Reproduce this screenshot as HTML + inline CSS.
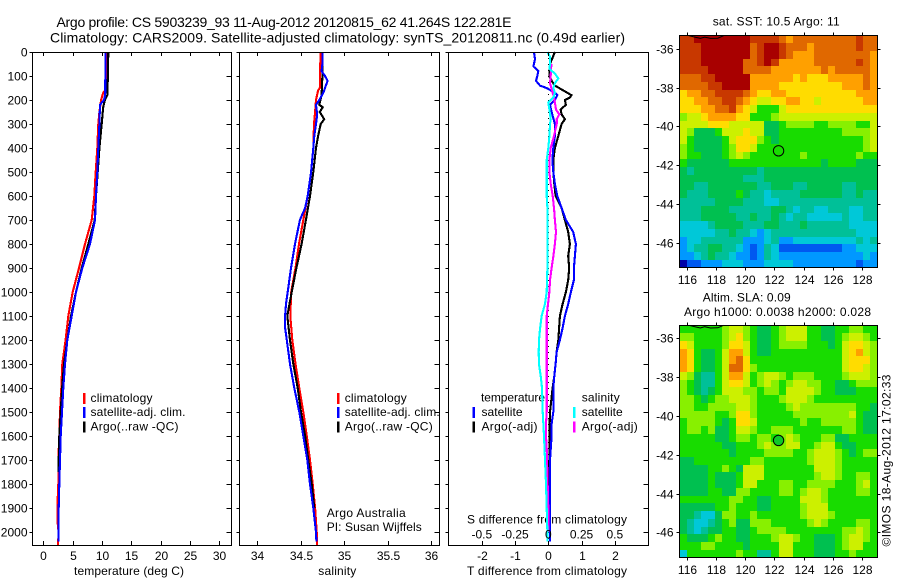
<!DOCTYPE html>
<html>
<head>
<meta charset="utf-8">
<title>Argo profile</title>
<style>
html,body{margin:0;padding:0;background:#fff;width:900px;height:580px;overflow:hidden}
svg{display:block}
text{font-family:"Liberation Sans",sans-serif;font-size:12px;fill:#000}
.t{font-size:14px}
</style>
</head>
<body>
<svg id="chart" width="900" height="580" viewBox="0 0 900 580" xmlns="http://www.w3.org/2000/svg">
<text class="t" x="56.5" y="27" textLength="455" lengthAdjust="spacing">Argo profile: CS 5903239_93 11-Aug-2012 20120815_62 41.264S 122.281E</text>
<text class="t" x="50" y="42.5" textLength="575" lengthAdjust="spacing">Climatology: CARS2009. Satellite-adjusted climatology: synTS_20120811.nc (0.49d earlier)</text>
<text x="90.5" y="402" textLength="62" lengthAdjust="spacing">climatology</text>
<text x="90.5" y="416" textLength="95" lengthAdjust="spacing">satellite-adj. clim.</text>
<text x="90.5" y="430.5" textLength="88" lengthAdjust="spacing">Argo(..raw -QC)</text>
<text x="74" y="575" textLength="110" lengthAdjust="spacing">temperature (deg C)</text>
<text x="344.7" y="402" textLength="62" lengthAdjust="spacing">climatology</text>
<text x="344.7" y="416" textLength="95" lengthAdjust="spacing">satellite-adj. clim.</text>
<text x="344.7" y="430.5" textLength="88" lengthAdjust="spacing">Argo(..raw -QC)</text>
<text x="326.7" y="517" textLength="79" lengthAdjust="spacing">Argo Australia</text>
<text x="326.7" y="531" textLength="95" lengthAdjust="spacing">PI: Susan Wijffels</text>
<text x="318.3" y="575" textLength="38" lengthAdjust="spacing">salinity</text>
<text x="481" y="401.5" textLength="64" lengthAdjust="spacing">temperature</text>
<text x="581.7" y="401.5" textLength="38" lengthAdjust="spacing">salinity</text>
<text x="481.5" y="416" textLength="41" lengthAdjust="spacing">satellite</text>
<text x="481.5" y="430.5" textLength="56" lengthAdjust="spacing">Argo(-adj)</text>
<text x="581.7" y="416" textLength="41" lengthAdjust="spacing">satellite</text>
<text x="581.7" y="430.5" textLength="56" lengthAdjust="spacing">Argo(-adj)</text>
<text x="467" y="523.5" textLength="160" lengthAdjust="spacing">S difference from climatology</text>
<text x="467" y="575" textLength="160" lengthAdjust="spacing">T difference from climatology</text>
<text x="712.7" y="25.5" textLength="127" lengthAdjust="spacing">sat. SST: 10.5 Argo: 11</text>
<text x="702.7" y="301.7" textLength="88" lengthAdjust="spacing">Altim. SLA: 0.09</text>
<text x="684" y="316" textLength="187" lengthAdjust="spacing">Argo h1000: 0.0038 h2000: 0.028</text>
<text transform="translate(890.5,546.5) rotate(-90)" textLength="172" lengthAdjust="spacing">©IMOS 18-Aug-2012 17:02:33</text>
</svg>
<script>
const depthTicks = [0,100,200,300,400,500,600,700,800,900,1000,1100,1200,1300,1400,1500,1600,1700,1800,1900,2000];
const temperatureTicks = [0,5,10,15,20,25,30];
const salinityTicks = [34,34.5,35,35.5,36];
const tDiffTicks = [-2,-1,0,1,2];
const sDiffTicks = [-0.5,-0.25,0,0.25,0.5];
const lonTicks = [116,118,120,122,124,126,128];
const latTicks = [-36,-38,-40,-42,-44,-46];

const tempClimDepth = [0,100,160,170,200,250,300,400,500,600,700,800,900,1000,1100,1200,1300,1400,1500,1600,1700,1800,1900,1950,2000,2055];
const tempClim = [10.68,10.68,10.6,10.2,9.85,9.55,9.37,9.2,8.93,8.69,8.25,7.1,6.08,5,4.26,3.8,3.24,3.07,2.85,2.73,2.56,2.56,2.39,2.39,2.6,2.5];
const tempSatDepth = [0,180,200,220,300,400,500,600,700,800,900,1000,1100,1200,1300,1400,1500,1600,1700,1800,1900,2000,2040];
const tempSat = [10.6,10.55,10.34,9.66,9.55,9.37,9.2,8.98,8.8,7.96,6.65,5.57,4.84,4.09,3.7,3.41,3.19,2.96,2.85,2.73,2.62,2.56,2.56];
const tempArgoDepth = [0,100,180,200,230,300,400,500,600,700,800,900,1000,1100,1200,1300,1400,1500,1600,1700,1750];
const tempArgo = [11.08,11,10.9,10.5,10.2,9.95,9.55,9.27,8.98,8.75,7.67,6.55,5.57,4.72,4.09,3.53,3.2,2.96,2.73,2.62,2.56];

const salClimDepth = [0,100,150,160,200,250,300,400,500,600,700,800,900,1000,1100,1200,1300,1400,1500,1600,1700,1800,1900,2000,2055];
const salClim = [34.73,34.72,34.72,34.7,34.676,34.665,34.653,34.645,34.62,34.58,34.53,34.48,34.44,34.39,34.38,34.403,34.44,34.484,34.53,34.57,34.607,34.638,34.665,34.684,34.69];
const salSatDepth = [0,50,80,100,120,150,170,200,220,260,300,350,400,500,600,650,700,800,900,1000,1050,1100,1150,1200,1300,1400,1500,1600,1700,1800,1900,2000,2040];
const salSat = [34.75,34.75,34.74,34.78,34.81,34.78,34.76,34.714,34.676,34.69,34.676,34.656,34.645,34.62,34.58,34.55,34.49,34.434,34.388,34.35,34.33,34.32,34.32,34.34,34.377,34.426,34.484,34.53,34.576,34.607,34.645,34.676,34.68];
const salArgoDepth = [0,100,180,220,230,250,280,300,350,400,500,600,700,800,900,1000,1100,1200,1300,1400,1500,1600,1700,1800,1900];
const salArgo = [34.75,34.75,34.74,34.714,34.753,34.72,34.77,34.73,34.7,34.676,34.645,34.607,34.56,34.51,34.45,34.396,34.345,34.377,34.415,34.465,34.503,34.55,34.587,34.626,34.656];

const tDiffSatDepth = [0,30,60,80,100,120,140,150,170,180,200,220,250,300,350,400,450,500,550,600,650,700,750,800,850,900,950,1000,1050,1100,1150,1200,1250,1300,1350,1400,1500,1550,1600,1700,1800,2000,2040];
const tDiffSat = [-0.43,-0.4,-0.45,-0.3,-0.33,-0.37,-0.25,-0.05,0.2,0.27,0.2,0.05,0.1,0.2,0.2,0.15,0.12,0.15,0.2,0.27,0.4,0.53,0.75,0.83,0.8,0.77,0.77,0.68,0.6,0.5,0.43,0.35,0.25,0.22,0.18,0.15,0.15,0.1,0.1,0.05,0.05,0.05,0.05];
const tDiffArgoDepth = [0,10,50,100,120,140,160,180,190,200,220,240,260,280,300,350,400,450,500,550,600,650,700,750,800,850,900,950,1000,1050,1100,1200,1250,1300,1350,1400,1500,1600,1700,2000];
const tDiffArgo = [0.2,0.17,0.05,0.03,0.1,0.2,0.45,0.7,0.65,0.5,0.53,0.37,0.4,0.5,0.4,0.3,0.2,0.15,0.15,0.18,0.22,0.4,0.5,0.6,0.65,0.6,0.63,0.6,0.53,0.43,0.35,0.3,0.25,0.22,0.18,0.13,0.05,0.03,0.03,0];
const sDiffSatDepth = [0,20,50,70,90,110,130,150,170,190,210,240,280,300,350,400,450,500,550,600,650,700,800,900,1000,1050,1100,1150,1200,1250,1300,1350,1400,1500,1600,1700,1800,1900,2000,2040];
const sDiffSat = [-0.007,0.013,0.013,0.008,0.05,0.075,0.05,0.038,0.05,0.038,0,0.008,0.018,0.013,0.008,0,-0.012,-0.012,-0.012,-0.012,-0.007,-0.007,-0.007,-0.007,-0.012,-0.025,-0.05,-0.062,-0.07,-0.072,-0.07,-0.057,-0.047,-0.042,-0.032,-0.025,-0.017,-0.012,-0.007,-0.005];
const sDiffArgoDepth = [50,70,100,130,170,190,210,240,260,280,300,350,400,450,500,550,600,650,700,750,800,850,900,950,1000,1050,1100,1200,1300,1400,1500,1550,1600,1650,1900,2000];
const sDiffArgo = [0.025,0.02,0.018,0.013,0.033,0.043,0.05,0.058,0.083,0.063,0.063,0.043,0.018,0.008,0.008,0.018,0.033,0.043,0.05,0.058,0.05,0.038,0.025,0.013,0.008,-0.002,-0.012,-0.012,-0.012,-0.012,-0.012,-0.017,-0.017,-0.012,0,0];

const coastLon = [116.1,116.6,116.9,117.2,117.6,118.1,118.5];
const coastLat = [-35.33,-35.42,-35.47,-35.4,-35.47,-35.46,-35.33];
const floatLon = [122.281];
const floatLat = [-41.264];

const sstRows = [
[12,12,13,13,13,13,13,13,13,13,12,12,12,12,11,10,11,11,11,11,11,11,11,11,11,12,11,11],
[12,12,12,13,13,13,13,13,13,13,11,12,13,13,12,11,11,11,10,11,11,11,11,11,11,12,11,11],
[12,12,12,13,13,13,13,13,13,13,11,12,13,13,12,11,10,10,10,11,11,11,11,11,11,11,11,10],
[12,12,12,13,13,13,13,13,13,11,11,12,13,12,10,10,10,10,10,11,11,11,11,11,11,12,11,10],
[12,12,12,12,13,13,13,13,13,11,11,11,11,10,10,10,10,10,10,10,11,10,11,11,11,11,11,10],
[11,11,11,12,12,13,13,13,13,13,10,10,10,10,10,10,9,10,9,9,9,10,10,10,10,10,11,10],
[11,11,11,11,12,12,13,13,13,13,10,10,10,10,9,9,9,9,9,9,9,9,9,10,10,10,11,10],
[9,10,10,11,11,12,12,12,12,11,10,9,9,10,10,9,9,9,9,9,9,9,9,9,9,10,10,10],
[9,9,10,10,11,11,12,12,11,10,9,8,8,9,9,10,10,9,9,8,9,9,9,9,9,9,10,10],
[9,9,9,10,10,11,11,12,10,9,8,6,6,6,8,9,9,9,9,9,9,9,9,9,9,9,9,9],
[7,8,8,9,10,10,10,10,9,9,6,6,6,7,8,8,8,8,8,8,8,8,8,8,8,8,8,8],
[8,8,8,8,9,9,9,8,8,8,8,8,5,5,6,7,7,7,7,6,6,7,7,7,7,6,6,8],
[8,7,5,5,5,6,8,8,8,9,8,8,5,5,6,6,6,6,6,6,6,6,6,7,7,7,7,8],
[8,6,5,5,5,5,6,8,9,9,9,7,6,5,6,6,6,6,6,6,6,6,6,6,6,6,7,8],
[7,6,5,5,5,5,6,7,9,9,8,6,6,6,6,6,6,6,6,6,6,6,6,6,6,6,7,8],
[7,6,6,5,5,5,6,7,8,7,6,6,6,6,6,6,6,7,6,6,6,6,6,6,6,7,6,6],
[6,5,5,5,5,5,5,6,6,6,6,6,6,6,6,6,6,6,6,6,5,6,6,6,6,5,5,5],
[5,4,5,5,5,5,5,5,5,5,5,4,5,5,5,5,5,5,5,5,5,5,5,5,5,5,5,5],
[5,5,5,5,5,5,5,5,5,4,4,4,5,5,5,5,5,5,5,5,5,5,5,5,5,5,5,5],
[5,5,4,4,5,5,5,5,5,5,5,4,4,5,5,5,4,4,5,5,5,5,5,4,4,5,5,5],
[5,4,4,4,5,5,5,5,6,5,4,4,3,4,4,4,4,5,5,5,5,5,5,4,4,5,4,4],
[4,4,4,4,4,5,5,5,5,4,4,4,3,3,4,4,4,4,4,4,4,4,4,4,4,4,4,4],
[4,4,4,5,5,5,5,4,4,4,4,4,4,5,5,4,3,4,4,3,3,4,4,4,3,3,4,4],
[4,4,4,5,5,5,5,5,4,4,5,4,4,5,4,3,4,4,3,3,3,3,3,4,3,3,4,4],
[3,3,3,3,4,5,5,5,5,4,4,4,5,5,4,4,4,5,4,4,4,4,4,4,3,3,3,3],
[3,3,3,3,3,4,4,5,4,4,3,2,3,4,4,4,4,4,4,4,4,4,4,4,4,3,3,3],
[2,3,3,4,4,4,4,4,4,2,2,2,3,4,2,2,3,3,3,3,3,3,3,3,3,4,3,4],
[2,3,4,4,5,5,4,4,3,2,1,2,4,3,1,1,1,1,1,1,1,1,1,2,2,3,3,3],
[2,2,3,4,5,4,4,3,2,2,1,2,4,3,2,2,2,2,2,2,2,2,2,2,2,2,3,2],
[0,1,1,2,2,2,3,3,3,2,2,2,3,3,3,3,2,2,2,2,2,2,2,2,2,1,2,2]
];
const slaRows = [
[6,6,6,6,6,6,7,8,8,7,6,5,5,6,7,8,8,8,6,6,5,5,6,6,7,7,6,6],
[7,7,6,6,6,6,7,8,9,7,6,5,5,6,7,8,8,8,6,6,5,5,6,7,8,8,7,6],
[9,8,6,6,6,6,7,9,9,8,6,5,5,6,7,7,7,7,6,6,6,5,6,8,9,9,8,7],
[10,9,6,5,5,6,8,10,10,8,6,5,5,6,6,6,6,6,6,6,6,6,6,8,9,10,8,7],
[10,9,6,5,5,6,8,10,11,9,6,6,6,6,6,6,6,6,6,6,6,6,6,8,9,9,9,7],
[10,9,6,5,5,6,8,11,11,9,7,6,6,6,6,6,6,6,6,6,6,6,6,8,9,9,8,7],
[8,7,5,4,4,6,8,10,10,8,6,7,8,8,7,6,7,7,7,6,6,6,6,7,8,8,8,7],
[7,6,5,4,4,6,8,9,9,8,6,7,8,7,6,7,8,8,7,7,6,6,5,5,6,7,7,7],
[7,6,5,4,5,6,8,8,8,7,7,6,7,7,6,8,8,8,8,7,6,6,5,5,5,6,6,6],
[7,7,6,5,6,7,7,8,8,8,7,6,6,6,7,8,8,8,7,6,6,6,6,6,6,6,6,6],
[7,7,6,6,7,7,7,7,8,8,7,6,6,6,6,7,8,7,7,7,7,7,7,7,7,6,6,5],
[7,7,7,7,7,6,6,7,9,9,7,6,6,6,6,6,7,7,7,7,7,7,7,7,8,6,5,5],
[6,7,7,7,7,6,5,6,9,9,8,6,6,6,6,6,6,7,6,6,7,7,7,7,7,6,5,5],
[6,7,7,6,7,5,5,6,8,8,7,6,6,7,7,7,6,6,6,6,6,6,6,7,7,6,5,5],
[6,6,6,6,6,5,5,6,7,7,6,7,7,6,7,8,7,6,6,6,7,7,5,5,6,6,6,6],
[6,6,6,6,6,6,5,5,6,6,6,7,8,7,7,8,8,6,6,7,8,8,6,5,5,6,6,6],
[6,6,6,6,6,6,6,5,6,6,6,6,7,7,7,7,6,6,7,8,8,8,7,6,5,6,7,7],
[5,5,6,6,6,6,6,6,6,6,7,7,6,6,6,6,6,6,7,8,8,8,7,6,6,6,6,6],
[5,5,5,5,6,6,7,6,5,8,8,8,6,6,6,6,6,6,6,8,8,8,7,6,6,6,6,6],
[5,5,5,5,6,5,5,5,6,8,8,8,6,6,6,6,6,6,6,7,8,8,7,6,6,7,7,6],
[5,5,5,5,6,5,5,5,6,8,8,6,6,6,7,7,6,6,7,7,7,7,6,6,6,7,8,6],
[5,5,5,5,6,6,5,5,7,7,6,6,6,6,7,7,6,7,8,8,7,6,6,6,6,7,7,6],
[6,6,6,6,6,6,6,7,7,6,6,5,5,6,6,6,6,8,8,8,7,6,6,6,6,6,6,6],
[5,5,5,5,5,6,6,7,6,6,6,5,5,6,6,6,6,7,8,8,8,6,6,6,6,6,6,6],
[5,5,4,3,3,5,7,7,6,6,7,6,6,6,6,6,6,7,8,8,8,7,6,6,6,6,6,6],
[5,4,3,3,4,5,6,7,5,5,7,7,7,6,6,6,6,6,7,8,7,6,6,6,6,7,7,6],
[5,4,3,4,5,5,6,6,5,5,6,7,7,7,7,6,6,6,6,6,6,6,6,7,7,8,7,6],
[6,5,5,5,6,7,6,6,5,5,6,6,6,7,8,8,7,6,6,5,5,5,6,7,8,8,7,6],
[6,6,6,7,7,6,6,6,6,5,6,6,6,6,8,8,6,6,6,5,5,5,6,7,8,8,6,6],
[3,6,6,6,6,6,6,6,7,6,6,4,4,6,8,8,6,6,6,5,5,5,6,6,7,6,6,6]
];
const colourScale = ['#0000a8','#0058f0','#0098ff','#00c8d8','#00c098','#00c050','#18dc00','#88f000','#ccf000','#ffdc00','#ffa000','#e06800','#c83800','#a80000'];

const svg = document.getElementById('chart');
const NS = 'http://www.w3.org/2000/svg';
const depthY = d => 52 + 0.24 * d;
const tempX = v => 43.3 + 5.87 * v;
const salX = v => 257.3 + 86.85 * (v - 34);
const tDiffX = v => 548.3 + 33.2 * v;
const sDiffX = v => 548.3 + 133 * v;
const lonX = v => 687.3 + (v - 116) * 14.53;
const sstY = v => 48.7 + (-36 - v) * 19.4;
const slaY = v => 338.3 + (-36 - v) * 19.4;

function make(tag, attrs, name, parent) {
  const el = document.createElementNS(NS, tag);
  for (const k in attrs) el.setAttribute(k, attrs[k]);
  
  
  (parent || svg).appendChild(el);
  return el;
}
function tick(x1, y1, x2, y2, name) {
  make('line', {x1:x1, y1:y1, x2:x2, y2:y2, stroke:'#000', 'stroke-width':1, 'shape-rendering':'crispEdges'}, name);
}
function label(txt, x, y, anchor, name) {
  const el = make('text', {x:x, y:y, 'text-anchor':anchor}, name);
  el.textContent = txt;
}
function frame(x, y, w, h, name) {
  make('rect', {x:x, y:y, width:w, height:h, fill:'none', stroke:'#000', 'stroke-width':1, 'shape-rendering':'crispEdges'}, name);
}
function curve(depths, values, xFn, colour, name) {
  const pts = depths.map((d, i) => xFn(values[i]).toFixed(1) + ',' + depthY(d).toFixed(1)).join(' ');
  make('polyline', {points:pts, fill:'none', stroke:colour, 'stroke-width':2.1, 'stroke-linejoin':'miter', 'shape-rendering':'crispEdges'}, name);
}
function legendBar(x, y, colour, name) {
  make('rect', {x:x, y:y, width:2.5, height:11, fill:colour, 'shape-rendering':'crispEdges'}, name);
}
function profilePanel(left, right, xFn, xTicks, key, firstLabels) {
  const top = 52, bottom = 545;
  depthTicks.forEach(d => {
    const y = Math.round(depthY(d)) + 0.5;
    tick(left - 3, y, left, y, key + '-depth-tick-left');
    tick(right - 5, y, right, y, key + '-depth-tick-right');
    if (firstLabels) label(String(d), 27.5, y + 4, 'end', 'depth-tick-label-' + d);
  });
  xTicks.forEach(v => {
    const x = Math.round(xFn(v)) + 0.5;
    tick(x, top, x, top + 4, key + '-tick-top');
    tick(x, bottom - 4, x, bottom, key + '-tick-bottom');
    label(String(v), x, 560, 'middle', key + '-tick-label-' + v);
  });
}
function heatmap(rows, yFn, top, bottom, name) {
  const left = 679.5, right = 877.5;
  const nr = rows.length, nc = rows[0].length;
  rows.forEach((row, j) => {
    row.forEach((v, i) => {
      const x0 = Math.round(left + (right - left) * i / nc);
      const x1 = Math.round(left + (right - left) * (i + 1) / nc);
      const y0 = Math.round(top + (bottom - top) * j / nr);
      const y1 = Math.round(top + (bottom - top) * (j + 1) / nr);
      make('rect', {x:x0, y:y0, width:x1 - x0, height:y1 - y0, fill:colourScale[Math.round(v)], 'shape-rendering':'crispEdges'}, name + '-cell');
    });
  });
  const coast = coastLon.map((l, i) => lonX(l).toFixed(1) + ',' + yFn(coastLat[i]).toFixed(1)).join(' ');
  make('polyline', {points:coast, fill:'none', stroke:'#000', 'stroke-width':1}, name + '-coastline');
  frame(left, top, right - left, bottom - top, name + '-frame');
  lonTicks.forEach(v => {
    const x = Math.round(lonX(v)) + 0.5;
    tick(x, top - 3, x, top, name + '-lon-tick-top');
    tick(x, bottom, x, bottom + 3, name + '-lon-tick-bottom');
    label(String(v), x, bottom + 16.5, 'middle', name + '-lon-label-' + v);
  });
  latTicks.forEach(v => {
    const y = Math.round(yFn(v)) + 0.5;
    tick(left - 3, y, left, y, name + '-lat-tick-left');
    tick(right, y, right + 3, y, name + '-lat-tick-right');
    label(String(v), 673.5, y + 4, 'end', name + '-lat-label-' + v);
  });
}

/* temperature panel */
curve(tempClimDepth, tempClim, tempX, '#ff0000', 'temperature-climatology-line');
curve(tempArgoDepth, tempArgo, tempX, '#000000', 'temperature-argo-line');
curve(tempSatDepth, tempSat, tempX, '#0000ff', 'temperature-satellite-line');
frame(32.5, 52.5, 199, 493, 'temperature-panel-frame');
profilePanel(32.5, 231.5, tempX, temperatureTicks, 'temperature', true);
legendBar(83, 393, '#ff0000', 'temperature-legend-climatology-swatch');
legendBar(83, 407, '#0000ff', 'temperature-legend-satellite-swatch');
legendBar(83, 421.5, '#000000', 'temperature-legend-argo-swatch');

/* salinity panel */
curve(salClimDepth, salClim, salX, '#ff0000', 'salinity-climatology-line');
curve(salArgoDepth, salArgo, salX, '#000000', 'salinity-argo-line');
curve(salSatDepth, salSat, salX, '#0000ff', 'salinity-satellite-line');
frame(239.5, 52.5, 200, 493, 'salinity-panel-frame');
profilePanel(239.5, 439.5, salX, salinityTicks, 'salinity', false);
legendBar(337, 393, '#ff0000', 'salinity-legend-climatology-swatch');
legendBar(337, 407, '#0000ff', 'salinity-legend-satellite-swatch');
legendBar(337, 421.5, '#000000', 'salinity-legend-argo-swatch');

/* difference panel */
make('line', {x1:548.5, y1:52, x2:548.5, y2:545, stroke:'#000', 'stroke-width':1, 'stroke-dasharray':'1 5', 'shape-rendering':'crispEdges'}, 'zero-difference-line');
curve(tDiffArgoDepth, tDiffArgo, tDiffX, '#000000', 'temperature-difference-argo-line');
curve(tDiffSatDepth, tDiffSat, tDiffX, '#0000ff', 'temperature-difference-satellite-line');
curve(sDiffArgoDepth, sDiffArgo, sDiffX, '#ff00ff', 'salinity-difference-argo-line');
curve(sDiffSatDepth, sDiffSat, sDiffX, '#00ffff', 'salinity-difference-satellite-line');
frame(448.5, 52.5, 200, 493, 'difference-panel-frame');
profilePanel(448.5, 648.5, tDiffX, tDiffTicks, 'difference', false);
sDiffTicks.forEach(v => {
  label(String(v), sDiffX(v), 538.5, 'middle', 's-difference-tick-label');
});
legendBar(472.5, 407, '#0000ff', 'difference-legend-t-satellite-swatch');
legendBar(472.5, 421.5, '#000000', 'difference-legend-t-argo-swatch');
legendBar(573, 407, '#00ffff', 'difference-legend-s-satellite-swatch');
legendBar(573, 421.5, '#ff00ff', 'difference-legend-s-argo-swatch');

/* maps */
heatmap(sstRows, sstY, 35.5, 267.5, 'sst-map');
make('circle', {cx:lonX(floatLon[0]), cy:sstY(floatLat[0]), r:5.2, fill:'none', stroke:'#000', 'stroke-width':1}, 'sst-map-float-marker');
heatmap(slaRows, slaY, 325.5, 557.5, 'sla-map');
make('circle', {cx:lonX(floatLon[0]), cy:slaY(floatLat[0]), r:5.2, fill:'#10c828', stroke:'#000', 'stroke-width':1}, 'sla-map-float-marker');
</script>
</body>
</html>
